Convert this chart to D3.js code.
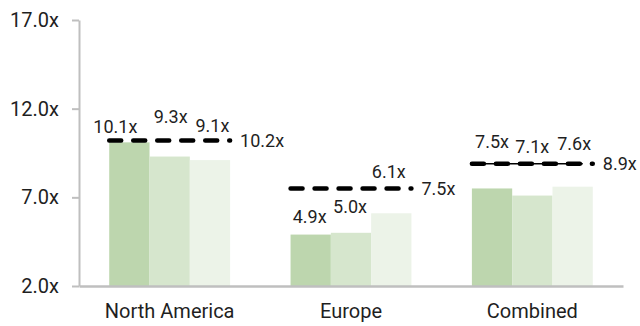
<!DOCTYPE html>
<html>
<head>
<meta charset="utf-8">
<script src="https://cdn.jsdelivr.net/npm/d3@7"></script>
<style>
  html, body { margin: 0; padding: 0; background: #fff; }
  svg { display: block; font-family: Roboto, "Noto Sans", sans-serif; }
</style>
</head>
<body>
<svg id="chart" width="640" height="326"></svg>
<script>
// Regions on the category axis
const categories = ["North America", "Europe", "Combined"];
// Three bar series per region (multiples)
const seriesA = [10.1, 4.9, 7.5];
const seriesB = [9.3, 5.0, 7.1];
const seriesC = [9.1, 6.1, 7.6];
// Reference level drawn as a dashed line over each group
const benchmark = [10.2, 7.5, 8.9];
// Y-axis ticks
const yTicks = [2, 7, 12, 17];

const series = [seriesA, seriesB, seriesC];
const colors = ["#bdd6ae", "#d6e6cd", "#ecf3e8"];
const fmt = v => d3.format(".1f")(v) + "x";

// Hand-tuned label placement (dx, lift above bar top), per region then per bar
const labelPlace = [
  [[-14, 9.5], [1, 33.5], [2.5, 28.5]],
  [[-1, 11.5], [-1, 20], [-2.5, 35.5]],
  [[0, 40.5], [0, 42.5], [1.5, 37]]
];

const svg = d3.select("#chart");
const plotLeft = 79, plotRight = 623, plotTop = 20, plotBottom = 286;

const y = d3.scaleLinear().domain([2, 17]).range([plotBottom, plotTop]);
const x0 = d3.scaleBand().domain(categories).range([plotLeft, plotRight])
  .paddingInner(1 / 3).paddingOuter(1 / 6);
const x1 = d3.scaleBand().domain(d3.range(series.length)).range([0, x0.bandwidth()]);

const ink = "#1f1f1f";
const axisGray = "#bfbfbf";

// Y axis
const yAxis = svg.append("g")
  .attr("transform", `translate(${plotLeft},0)`)
  .call(d3.axisLeft(y).tickValues(yTicks).tickFormat(fmt).tickSize(7).tickPadding(13).tickSizeOuter(0));
yAxis.select(".domain").attr("stroke", axisGray).attr("stroke-width", 2);
yAxis.selectAll(".tick line").attr("stroke", axisGray).attr("stroke-width", 2);
yAxis.selectAll(".tick text").attr("fill", ink).attr("font-size", 20)
  .attr("font-family", "Roboto, sans-serif");

// Bars
const groups = svg.append("g").selectAll("g")
  .data(categories)
  .join("g")
  .attr("transform", d => `translate(${x0(d)},0)`);

groups.each(function (cat, ci) {
  const g = d3.select(this);
  series.forEach((s, si) => {
    g.append("rect")
      .attr("x", x1(si))
      .attr("y", y(s[ci]))
      .attr("width", x1.bandwidth())
      .attr("height", y(2) - y(s[ci]))
      .attr("fill", colors[si]);
  });
});

// X axis baseline and category labels
const xAxis = svg.append("g")
  .attr("transform", `translate(0,${plotBottom})`)
  .call(d3.axisBottom(x0).tickSize(0).tickPadding(18).tickSizeOuter(0));
xAxis.select(".domain").attr("stroke", axisGray).attr("stroke-width", 2.5);
xAxis.selectAll(".tick text").attr("fill", ink).attr("font-size", 20)
  .attr("font-family", "Roboto, sans-serif");

// Benchmark lines
const lines = svg.append("g");
categories.forEach((cat, ci) => {
  const xa = x0(cat), xb = x0(cat) + x0.bandwidth();
  const yy = y(benchmark[ci]);
  if (ci === categories.length - 1) {
    lines.append("line")
      .attr("x1", xa).attr("x2", xb - 10).attr("y1", yy).attr("y2", yy)
      .attr("stroke", "#000").attr("stroke-width", 1.5);
  }
  lines.append("line")
    .attr("x1", xa).attr("x2", xb).attr("y1", yy).attr("y2", yy)
    .attr("stroke", "#000").attr("stroke-width", 4.5)
    .attr("stroke-linecap", "round")
    .attr("stroke-dasharray", "12,12");
  lines.append("text")
    .attr("x", xb + 10).attr("y", yy)
    .attr("dy", "0.35em")
    .attr("fill", ink).attr("font-size", 18)
    .text(fmt(benchmark[ci]));
});

// Value labels
const labels = svg.append("g");
categories.forEach((cat, ci) => {
  series.forEach((s, si) => {
    const [dx, lift] = labelPlace[ci][si];
    labels.append("text")
      .attr("x", x0(cat) + x1(si) + x1.bandwidth() / 2 + dx)
      .attr("y", y(s[ci]) - lift)
      .attr("text-anchor", "middle")
      .attr("fill", ink).attr("font-size", 18)
      .text(fmt(s[ci]));
  });
});
</script>
</body>
</html>
